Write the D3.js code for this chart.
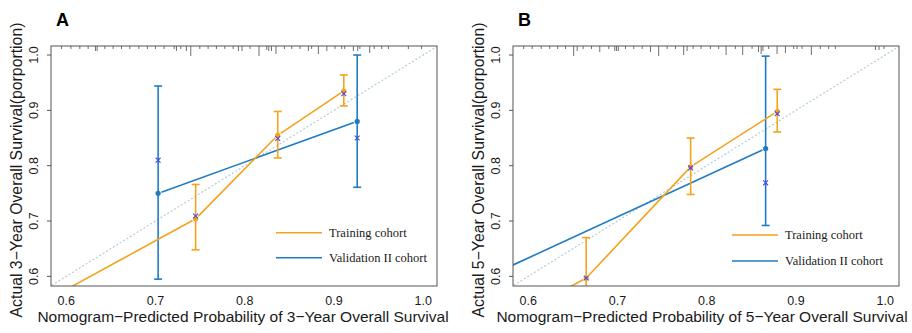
<!DOCTYPE html>
<html>
<head>
<meta charset="utf-8">
<script src="https://cdn.jsdelivr.net/npm/d3@7"></script>
<style>
  body { margin: 0; background: #fff; }
  svg { display: block; }
</style>
</head>
<body>
<div id="vis"></div>
<script>
const FRAME_WIDTH = 912;
const FRAME_HEIGHT = 333;
const BOX_W = 386;
const BOX_H = 240;
const BOX_TOP = 46;

const X_DOMAIN = [0.583, 1.0154];
const Y_DOMAIN = [0.5826, 1.0163];
const TICKS = [0.6, 0.7, 0.8, 0.9, 1.0];

const ORANGE = "#f5a21c";
const BLUE = "#1f7cc2";
const XMARK = "#4a4ae0";

// Panel A, 3-year (first training entry is below the visible area)
const A_train_pred = [0.55, 0.745, 0.837, 0.911];
const A_train_obs  = [0.532, 0.704, 0.855, 0.935];
const A_train_lo   = [0.45, 0.648, 0.814, 0.908];
const A_train_hi   = [0.60, 0.766, 0.898, 0.964];
const A_train_corr = [0.53, 0.709, 0.849, 0.930];

const A_valid_pred = [0.703, 0.926];
const A_valid_obs  = [0.750, 0.880];
const A_valid_lo   = [0.595, 0.761];
const A_valid_hi   = [0.944, 1.000];
const A_valid_corr = [0.810, 0.850];

const A_rug_x = [0.5947, 0.6053, 0.6153, 0.6246, 0.6329, 0.6347, 0.6433, 0.6526, 0.662, 0.6713,
  0.6814, 0.691, 0.700, 0.7097, 0.721, 0.7235, 0.7284, 0.7347, 0.7396, 0.7497, 0.759, 0.7683,
  0.7777, 0.787, 0.793, 0.797, 0.806, 0.816, 0.8247, 0.827, 0.830, 0.835, 0.8445, 0.8527, 0.862,
  0.8713, 0.875, 0.8825, 0.892, 0.9012, 0.9087, 0.912, 0.9217, 0.9266, 0.929, 0.940, 0.945,
  0.9535, 0.961, 0.9833, 0.998];
const A_rug_n = [0.3, 0.3, 0.3, 0.3, 0.5, 0.5, 0.3, 0.3, 0.3, 0.3,
  0.3, 0.3, 0.3, 0.3, 0.3, 0.5, 0.3, 0.5, 1.0, 0.3, 0.3, 0.3,
  0.3, 0.3, 0.5, 0.5, 0.3, 1.0, 0.4, 0.5, 0.5, 0.8, 0.3, 0.3, 0.3,
  0.5, 0.3, 0.8, 0.5, 0.3, 0.3, 0.3, 0.5, 0.5, 0.3, 0.7, 0.3,
  0.3, 0.3, 0.3, 0.3];

// Panel B, 5-year (first entries are below / left of the visible area)
const B_train_pred = [0.56, 0.665, 0.782, 0.879];
const B_train_obs  = [0.505, 0.597, 0.798, 0.898];
const B_train_lo   = [0.40, 0.52, 0.748, 0.861];
const B_train_hi   = [0.56, 0.670, 0.850, 0.938];
const B_train_corr = [0.50, 0.597, 0.796, 0.894];

const B_valid_pred = [0.55, 0.866];
const B_valid_obs  = [0.596, 0.831];
const B_valid_lo   = [0.45, 0.692];
const B_valid_hi   = [0.70, 0.998];
const B_valid_corr = [0.59, 0.769];

const B_rug_x = [0.595, 0.6045, 0.6146, 0.6242, 0.6331, 0.6418, 0.651, 0.6549, 0.6616, 0.6709,
  0.6802, 0.6903, 0.697, 0.699, 0.701, 0.709, 0.7183, 0.7277, 0.737, 0.7462, 0.7557, 0.765,
  0.7742, 0.778, 0.7848, 0.7937, 0.8041, 0.8134, 0.8217, 0.8321, 0.8403, 0.8508, 0.858, 0.861,
  0.863, 0.8694, 0.8788, 0.8882, 0.8974, 0.9012, 0.9068, 0.9172, 0.9273, 0.9366, 0.9441,
  0.989, 0.993, 0.9986];
const B_rug_n = [0.3, 0.3, 0.3, 0.3, 0.3, 0.3, 1.0, 0.5, 0.3, 0.3,
  0.6, 0.3, 0.5, 0.5, 0.5, 0.3, 0.3, 0.3, 0.6, 1.0, 0.3, 0.3,
  0.9, 0.5, 0.3, 0.3, 0.3, 0.3, 0.9, 0.3, 0.9, 0.3, 0.6, 0.8,
  0.5, 0.3, 0.8, 0.7, 0.3, 0.3, 0.3, 0.9, 0.3, 0.3, 0.3,
  0.4, 0.4, 0.3];

const LEGEND = ["Training cohort", "Validation II cohort"];

const SVG = d3.select("#vis")
    .append("svg")
    .attr("width", FRAME_WIDTH)
    .attr("height", FRAME_HEIGHT);

function zip(pred, obs, lo, hi, corr) {
    return pred.map((p, i) => ({p: p, o: obs[i], lo: lo[i], hi: hi[i], c: corr[i]}));
}

function draw_panel(cfg) {
    const X = d3.scaleLinear().domain(X_DOMAIN).range([0, BOX_W]);
    const Y = d3.scaleLinear().domain(Y_DOMAIN).range([BOX_H, 0]);
    const RUG = d3.scaleLinear().domain([0, 1]).range([0, 10]);

    const g = SVG.append("g")
        .attr("transform", "translate(" + cfg.left + "," + BOX_TOP + ")");

    const clipId = "clip" + cfg.label;
    g.append("clipPath").attr("id", clipId)
        .append("rect").attr("width", BOX_W).attr("height", BOX_H);

    const plot = g.append("g").attr("clip-path", "url(#" + clipId + ")");

    // ideal line
    plot.append("line")
        .attr("x1", X(0.5)).attr("y1", Y(0.5))
        .attr("x2", X(1.1)).attr("y2", Y(1.1))
        .attr("stroke", "#b4ccd8")
        .attr("stroke-width", 1.2)
        .attr("stroke-dasharray", "2,2");

    // rug of predicted values along top
    plot.selectAll(".rug")
        .data(cfg.rugX.map((v, i) => ({v: v, n: cfg.rugN[i]})))
        .enter()
        .append("line")
            .attr("x1", d => X(d.v)).attr("x2", d => X(d.v))
            .attr("y1", 0).attr("y2", d => RUG(d.n))
            .attr("stroke", "#6e6e6e")
            .attr("stroke-width", 1);

    const draw_series = (data, color) => {
        // type = "b" style: segments with small gaps at the points
        const gap = 3.5;
        for (let i = 0; i < data.length - 1; i++) {
            const x1 = X(data[i].p), y1 = Y(data[i].o);
            const x2 = X(data[i + 1].p), y2 = Y(data[i + 1].o);
            const len = Math.hypot(x2 - x1, y2 - y1);
            const ux = (x2 - x1) / len, uy = (y2 - y1) / len;
            plot.append("line")
                .attr("x1", x1 + ux * gap).attr("y1", y1 + uy * gap)
                .attr("x2", x2 - ux * gap).attr("y2", y2 - uy * gap)
                .attr("stroke", color)
                .attr("stroke-width", 1.6);
        }
        const bars = plot.selectAll(null).data(data).enter().append("g");
        bars.append("line")
            .attr("x1", d => X(d.p)).attr("x2", d => X(d.p))
            .attr("y1", d => Y(d.lo)).attr("y2", d => Y(d.hi))
            .attr("stroke", color).attr("stroke-width", 1.6);
        bars.append("line")
            .attr("x1", d => X(d.p) - 4).attr("x2", d => X(d.p) + 4)
            .attr("y1", d => Y(d.lo)).attr("y2", d => Y(d.lo))
            .attr("stroke", color).attr("stroke-width", 1.6);
        bars.append("line")
            .attr("x1", d => X(d.p) - 4).attr("x2", d => X(d.p) + 4)
            .attr("y1", d => Y(d.hi)).attr("y2", d => Y(d.hi))
            .attr("stroke", color).attr("stroke-width", 1.6);
        bars.append("circle")
            .attr("cx", d => X(d.p)).attr("cy", d => Y(d.o))
            .attr("r", 2.6).attr("fill", color);
        bars.append("path")
            .attr("d", d => {
                const x = X(d.p), y = Y(d.c), s = 2.4;
                return "M" + (x - s) + "," + (y - s) + "L" + (x + s) + "," + (y + s) +
                       "M" + (x - s) + "," + (y + s) + "L" + (x + s) + "," + (y - s);
            })
            .attr("stroke", XMARK).attr("stroke-width", 1.1).attr("fill", "none");
    };

    draw_series(cfg.valid, BLUE);
    draw_series(cfg.train, ORANGE);

    // box
    g.append("rect")
        .attr("width", BOX_W).attr("height", BOX_H)
        .attr("fill", "none").attr("stroke", "#555").attr("stroke-width", 1);

    // y axis ticks + rotated labels, x labels
    TICKS.forEach(t => {
        g.append("line")
            .attr("x1", -4).attr("x2", 0)
            .attr("y1", Y(t)).attr("y2", Y(t))
            .attr("stroke", "#555");
        g.append("text")
            .attr("transform", "translate(-13," + Y(t) + ") rotate(-90)")
            .attr("text-anchor", "middle")
            .attr("font-family", "Liberation Sans, Arial, sans-serif")
            .attr("font-size", 12.5)
            .attr("fill", "#1a1a1a")
            .text(t.toFixed(1));
        g.append("text")
            .attr("x", X(t)).attr("y", BOX_H + 19)
            .attr("text-anchor", "middle")
            .attr("font-family", "Liberation Sans, Arial, sans-serif")
            .attr("font-size", 12.5)
            .attr("fill", "#1a1a1a")
            .text(t.toFixed(1));
    });

    g.append("text")
        .attr("x", BOX_W / 2 + cfg.xTitleShift).attr("y", BOX_H + 35.5)
        .attr("text-anchor", "middle")
        .attr("font-family", "Liberation Sans, Arial, sans-serif")
        .attr("font-size", 15.5)
        .attr("fill", "#1a1a1a")
        .text(cfg.xTitle);

    g.append("text")
        .attr("transform", "translate(-29.5," + (BOX_H / 2 + 4) + ") rotate(-90)")
        .attr("text-anchor", "middle")
        .attr("font-family", "Liberation Sans, Arial, sans-serif")
        .attr("font-size", 15.8)
        .attr("fill", "#1a1a1a")
        .text(cfg.yTitle);

    g.append("text")
        .attr("x", 5).attr("y", -20)
        .attr("font-family", "Liberation Sans, Arial, sans-serif")
        .attr("font-size", 18)
        .attr("font-weight", "bold")
        .text(cfg.label);

    // legend
    [ORANGE, BLUE].forEach((c, i) => {
        const ly = cfg.legendY[i];
        g.append("line")
            .attr("x1", cfg.legendX).attr("x2", cfg.legendX + 46)
            .attr("y1", ly).attr("y2", ly)
            .attr("stroke", c).attr("stroke-width", 1.6);
        g.append("text")
            .attr("x", cfg.legendX + 53).attr("y", ly + 4)
            .attr("font-family", "Liberation Serif, Times New Roman, serif")
            .attr("font-size", 12.5)
            .attr("fill", "#1a1a1a")
            .text(LEGEND[i]);
    });
}

draw_panel({
    label: "A", left: 51, xTitleShift: -1,
    train: zip(A_train_pred, A_train_obs, A_train_lo, A_train_hi, A_train_corr),
    valid: zip(A_valid_pred, A_valid_obs, A_valid_lo, A_valid_hi, A_valid_corr),
    rugX: A_rug_x, rugN: A_rug_n,
    xTitle: "Nomogram\u2212Predicted Probability of 3\u2212Year Overall Survival",
    yTitle: "Actual 3\u2212Year Overall Survival(porportion)",
    legendX: 225, legendY: [186.7, 211.7]
});

draw_panel({
    label: "B", left: 513, xTitleShift: -4,
    train: zip(B_train_pred, B_train_obs, B_train_lo, B_train_hi, B_train_corr),
    valid: zip(B_valid_pred, B_valid_obs, B_valid_lo, B_valid_hi, B_valid_corr),
    rugX: B_rug_x, rugN: B_rug_n,
    xTitle: "Nomogram\u2212Predicted Probability of 5\u2212Year Overall Survival",
    yTitle: "Actual 5\u2212Year Overall Survival(porportion)",
    legendX: 219, legendY: [189, 215]
});
</script>
</body>
</html>
